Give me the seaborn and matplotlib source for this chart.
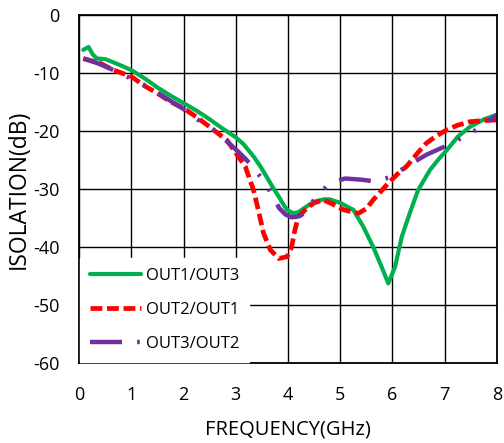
import matplotlib
matplotlib.use("Agg")
import matplotlib.pyplot as plt
import pandas as pd
import seaborn as sns

# values (GHz, dB)
f_out13 = [0.08, 0.18, 0.26, 0.34, 0.5, 0.75, 1.0, 1.25, 1.5, 1.75, 2.0, 2.25, 2.5, 2.75, 3.0, 3.15,
           3.34, 3.47, 3.59, 3.7, 3.82, 3.92, 3.98, 4.1, 4.2, 4.36, 4.5, 4.68, 4.8, 5.0, 5.25, 5.44,
           5.63, 5.79, 5.92, 6.05, 6.18, 6.33, 6.49, 6.72, 6.88, 7.04, 7.25, 7.48, 7.75, 8.0]
v_out13 = [-6.0, -5.5, -6.8, -7.5, -7.6, -8.5, -9.5, -10.9, -12.5, -13.9, -15.2, -16.5, -18.0, -19.6,
           -21.1, -22.3, -24.4, -26.1, -27.9, -29.6, -31.3, -32.8, -33.6, -34.2, -34.0, -33.0, -32.2,
           -31.8, -31.8, -32.4, -33.6, -36.5, -40.0, -43.4, -46.3, -43.4, -38.2, -34.2, -30.2, -26.7,
           -24.9, -23.3, -21.0, -19.3, -18.0, -17.2]

f_out21 = [0.08, 0.4, 0.66, 1.0, 1.23, 1.5, 1.74, 2.0, 2.25, 2.5, 2.7, 2.83, 3.0, 3.18, 3.34, 3.43,
           3.53, 3.66, 3.82, 3.98, 4.07, 4.13, 4.2, 4.36, 4.5, 4.68, 4.85, 5.06, 5.35, 5.5, 5.63, 5.78,
           5.92, 6.1, 6.27, 6.5, 6.65, 6.85, 7.04, 7.25, 7.48, 7.75, 8.0]
v_out21 = [-7.5, -8.3, -9.5, -10.6, -12.1, -13.5, -14.9, -16.1, -17.6, -19.3, -20.7, -21.6, -23.8,
           -26.1, -30.2, -33.6, -37.6, -40.5, -42.0, -41.7, -40.0, -37.1, -34.8, -33.3, -32.4, -31.9,
           -32.6, -33.6, -34.2, -33.4, -31.9, -30.4, -29.0, -27.4, -26.1, -23.6, -22.1, -20.8, -19.8,
           -19.0, -18.4, -18.2, -18.1]

f_out32 = [0.08, 0.35, 0.66, 1.0, 1.3, 1.52, 2.03, 2.28, 2.57, 2.83, 3.05, 3.27, 3.48, 3.67, 3.83,
           3.95, 4.07, 4.17, 4.26, 4.4, 4.55, 4.8, 5.09, 5.4, 5.66, 5.98, 6.27, 6.65, 7.07, 7.36, 7.67,
           8.0]
v_out32 = [-7.5, -8.3, -9.5, -11.0, -12.3, -13.5, -16.4, -18.1, -19.8, -21.8, -23.6, -25.6, -28.0,
           -30.6, -33.3, -34.4, -34.9, -34.8, -34.5, -33.0, -31.3, -29.0, -28.2, -28.4, -28.7, -27.9,
           -26.1, -24.1, -22.4, -21.0, -19.5, -17.2]

series = {
    "OUT1/OUT3": (f_out13, v_out13),
    "OUT2/OUT1": (f_out21, v_out21),
    "OUT3/OUT2": (f_out32, v_out32),
}
colors = {"OUT1/OUT3": "#00b050", "OUT2/OUT1": "#ff0000", "OUT3/OUT2": "#7030a0"}

sns.set_style("white")
plt.rcParams["font.family"] = ["Open Sans", "DejaVu Sans"]
plt.rcParams["axes.unicode_minus"] = False

fig = plt.figure(figsize=(5.04, 4.43), dpi=100)
ax = fig.add_axes([0.157, 0.181, 0.829, 0.785])

for name, (f, v) in series.items():
    df = pd.DataFrame({"freq": f, "iso": v})
    line = sns.lineplot(data=df, x="freq", y="iso", ax=ax, color=colors[name], label=name,
                        lw=3.0, sort=False).lines[-1]
    if name == "OUT2/OUT1":
        line.set_linewidth(3.4)
        line.set_dashes([2.5, 1.0])
    elif name == "OUT3/OUT2":
        line.set_linewidth(3.2)
        line.set_dashes([7.2, 3.4, 0.6, 3.4, 0.6, 3.4])

ax.set_xlim(0, 8)
ax.set_ylim(-60, 0)
ax.set_xticks(range(0, 9))
ax.set_yticks(range(-60, 1, 10))
ax.grid(True, color="black", lw=1)
for s in ax.spines.values():
    s.set_color("black")
    s.set_linewidth(1.3)
ax.tick_params(direction="in", length=3, color="black", labelcolor="black", labelsize=13)
ax.tick_params(axis="x", pad=17)
ax.tick_params(axis="y", pad=14)
ax.set_xlabel("FREQUENCY(GHz)", fontsize=14.5, labelpad=11, color="black")
ax.set_ylabel("ISOLATION(dB)", fontsize=16.5, labelpad=2, color="black")

leg = ax.legend(loc="lower left", frameon=True, fontsize=12, handlelength=3.05,
                handletextpad=0.3, labelspacing=1.08, borderpad=0.6, borderaxespad=0.05)
leg.get_frame().set_facecolor("white")
leg.get_frame().set_edgecolor("white")
leg.get_frame().set_alpha(1)
leg.get_frame().set_boxstyle("square", pad=0)
for t in leg.get_texts():
    t.set_color("black")

fig.savefig("out.png", dpi=100)
